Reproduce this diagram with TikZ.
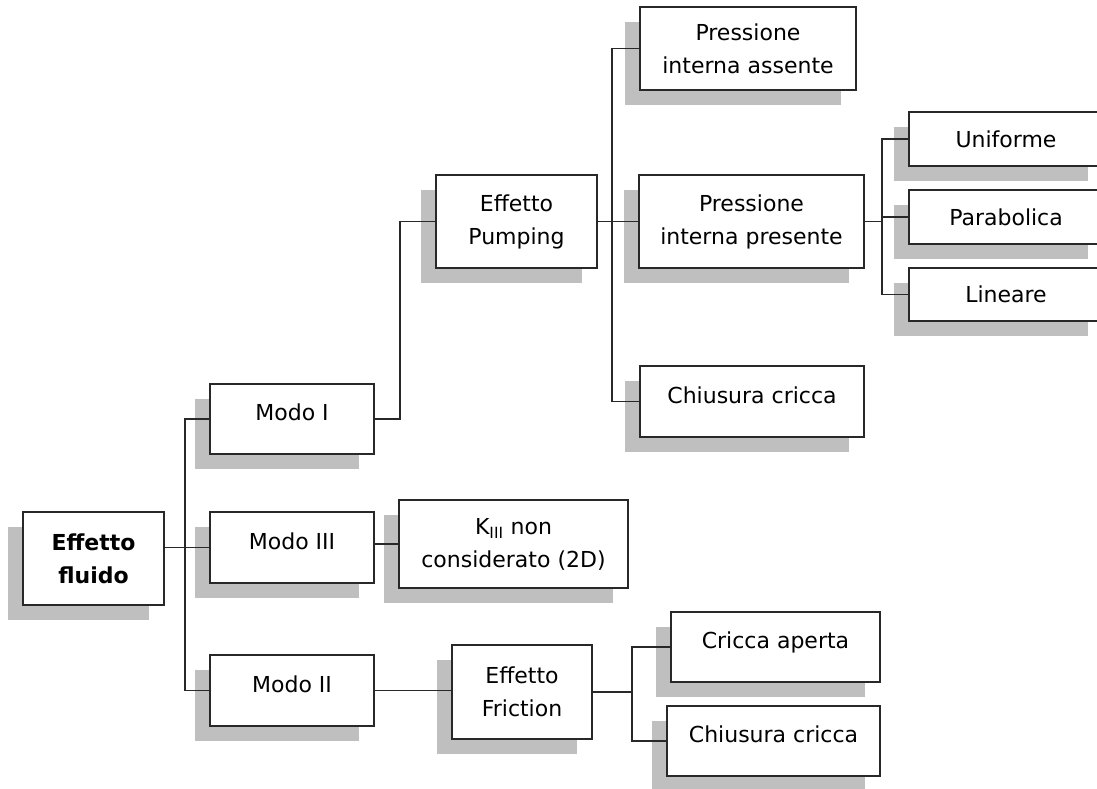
\documentclass[tikz,border=0pt]{standalone}
\usepackage{fontspec}
\setmainfont{DejaVu Sans}
\usetikzlibrary{shadows}
\definecolor{shadowgray}{RGB}{191,191,191}
\definecolor{edgegray}{RGB}{40,40,40}
\tikzset{
  box/.style={draw=edgegray, line width=1.3pt, fill=white, inner sep=0pt,
    font=\fontsize{22}{33}\selectfont, align=center,
    drop shadow={shadow xshift=-15pt, shadow yshift=-15pt, fill=shadowgray, opacity=1}},
  oneline/.style={box, text height=15pt, text depth=12pt},
  conn/.style={draw=edgegray, line width=1.2pt}
}
\begin{document}
\begin{tikzpicture}[x=1pt, y=-1pt]
\useasboundingbox (0,0) rectangle (1097,789);
\fill[white] (0,0) rectangle (1097,789);
% level 0
\node[box, minimum width=141pt, minimum height=93pt, font=\fontsize{22}{33}\selectfont\bfseries] (fluido) at (93.5,558.5) {Effetto\\fluido};
% level 1
\node[oneline, minimum width=164pt, minimum height=70pt] (modoI) at (292,419) {Modo I};
\node[oneline, minimum width=164pt, minimum height=71pt] (modoIII) at (292,547.5) {Modo III};
\node[oneline, minimum width=164pt, minimum height=71pt] (modoII) at (292,690.5) {Modo II};
% level 2
\node[box, minimum width=229pt, minimum height=88pt] (kiii) at (513.5,544) {K\textsubscript{III} non\\considerato (2D)};
\node[box, minimum width=161pt, minimum height=93pt] (pumping) at (516.5,221.5) {Effetto\\Pumping};
\node[box, minimum width=140pt, minimum height=94pt] (friction) at (522,692) {Effetto\\Friction};
% level 3
\node[box, minimum width=216pt, minimum height=83pt] (assente) at (748,48.5) {Pressione\\interna assente};
\node[box, minimum width=225pt, minimum height=93pt] (presente) at (751.5,221.5) {Pressione\\interna presente};
\node[oneline, minimum width=224pt, minimum height=71pt] (chiusuraA) at (752,401.5) {Chiusura cricca};
\node[oneline, minimum width=209pt, minimum height=70pt] (aperta) at (775.5,647) {Cricca aperta};
\node[oneline, minimum width=213pt, minimum height=70pt] (chiusuraB) at (773.5,741) {Chiusura cricca};
% level 4
\node[box, minimum width=194pt, minimum height=54pt] (uniforme) at (1006,139) {Uniforme};
\node[box, minimum width=194pt, minimum height=54pt] (parabolica) at (1006,217) {Parabolica};
\node[box, minimum width=194pt, minimum height=53pt] (lineare) at (1006,294.5) {Lineare};
% trunk coordinates
\coordinate (t1) at (185,0);
\coordinate (t2) at (400,0);
\coordinate (t3) at (612,0);
\coordinate (t4) at (882,0);
\coordinate (t5) at (632,0);
% connectors
\draw[conn] (fluido.east |- modoIII.west) -- (modoIII.west);
\draw[conn] (modoI.west) -- (modoI.west -| t1) -- (modoII.west -| t1) -- (modoII.west);
\draw[conn] (modoI.east) -- (modoI.east -| t2) -- (pumping.west -| t2) -- (pumping.west);
\draw[conn] (modoIII.east |- kiii.west) -- (kiii.west);
\draw[conn] (modoII.east) -- (modoII.east -| friction.west);
\draw[conn] (pumping.east) -- (presente.west);
\draw[conn] (assente.west) -- (assente.west -| t3) -- (chiusuraA.west -| t3) -- (chiusuraA.west);
\draw[conn] (presente.east) -- (presente.east -| t4);
\draw[conn] (uniforme.west) -- (uniforme.west -| t4) -- (lineare.west -| t4) -- (lineare.west);
\draw[conn] (parabolica.west -| t4) -- (parabolica.west);
\draw[conn] (friction.east) -- (friction.east -| t5);
\draw[conn] (aperta.west) -- (aperta.west -| t5) -- (chiusuraB.west -| t5) -- (chiusuraB.west);
\end{tikzpicture}
\end{document}
